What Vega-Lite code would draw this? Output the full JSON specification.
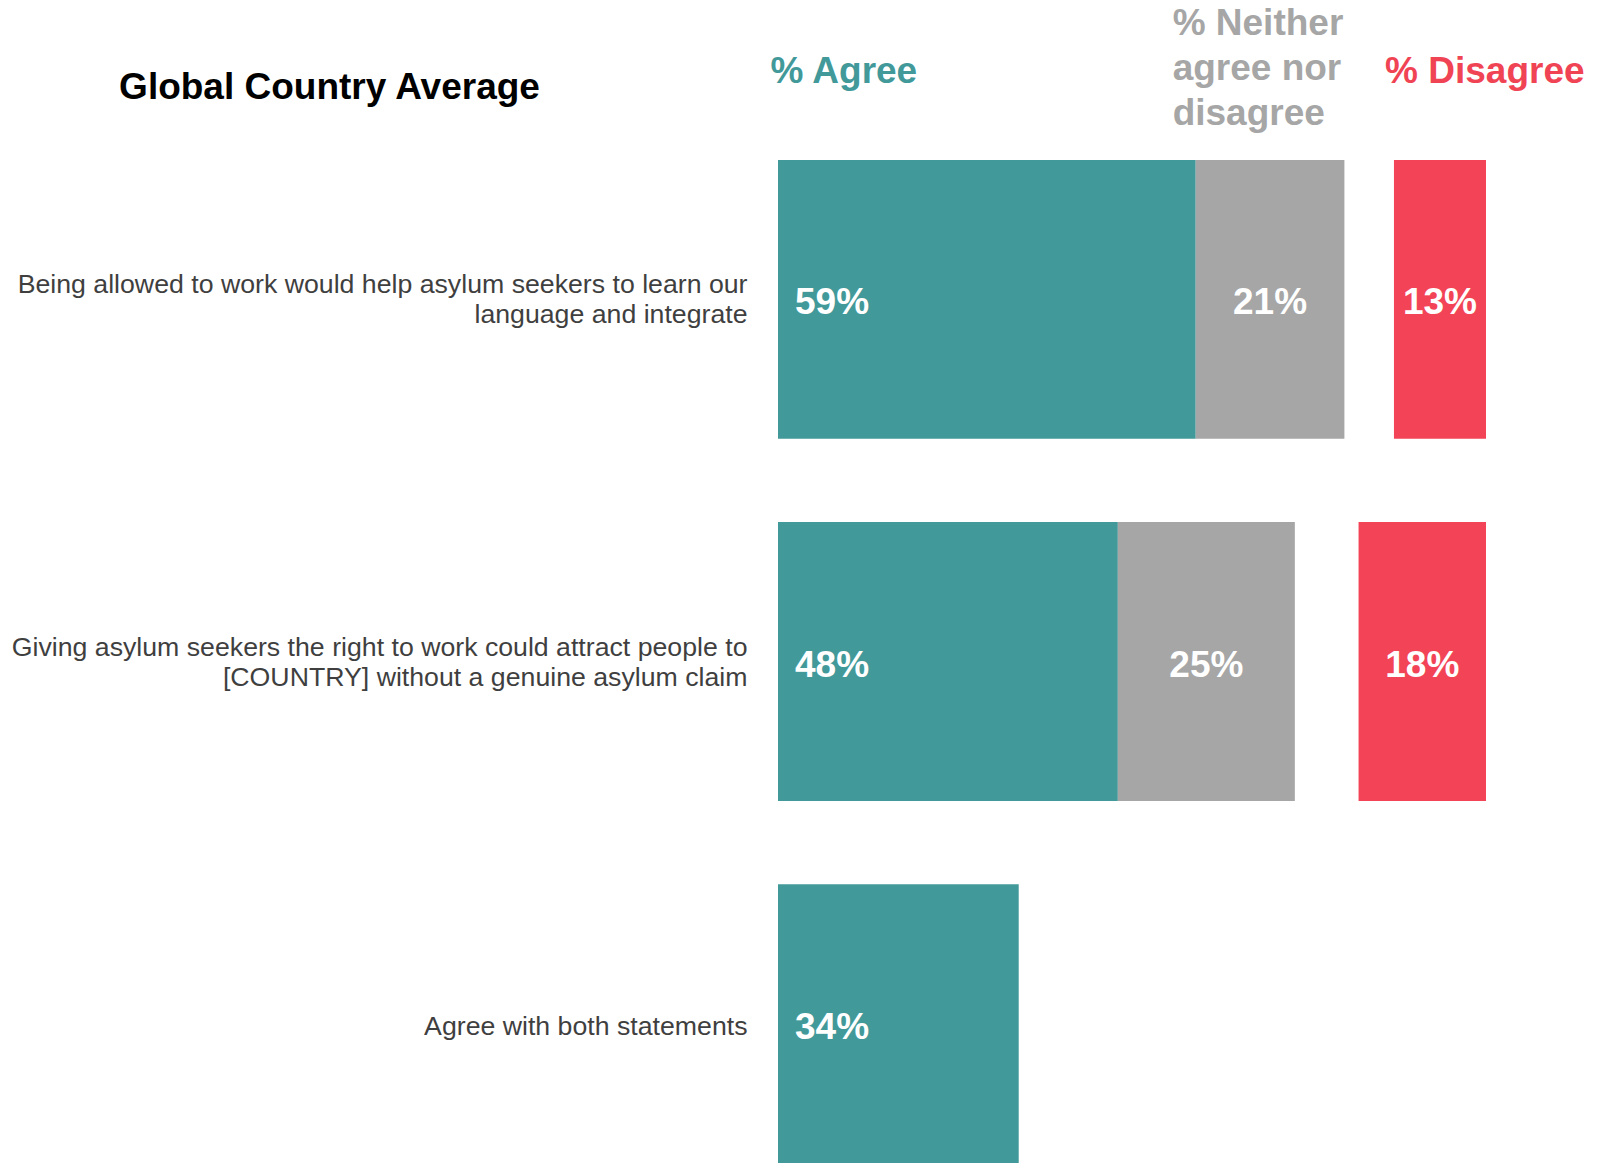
{
  "$schema": "https://vega.github.io/schema/vega-lite/v6.json",
  "autosize": {"type": "none"},
  "padding": {"left": 778, "top": 160, "right": 130, "bottom": 0},
  "width": 708,
  "height": 1003,
  "background": "white",
  "config": {"view": {"stroke": null}},
  "data": {
    "values": [
      {"statement": "Being allowed to work would help asylum seekers to learn our|language and integrate", "response": "Agree", "pct": 59},
      {"statement": "Being allowed to work would help asylum seekers to learn our|language and integrate", "response": "Neither", "pct": 21},
      {"statement": "Being allowed to work would help asylum seekers to learn our|language and integrate", "response": "Disagree", "pct": 13},
      {"statement": "Giving asylum seekers the right to work could attract people to|[COUNTRY] without a genuine asylum claim", "response": "Agree", "pct": 48},
      {"statement": "Giving asylum seekers the right to work could attract people to|[COUNTRY] without a genuine asylum claim", "response": "Neither", "pct": 25},
      {"statement": "Giving asylum seekers the right to work could attract people to|[COUNTRY] without a genuine asylum claim", "response": "Disagree", "pct": 18},
      {"statement": "Agree with both statements", "response": "Agree", "pct": 34}
    ]
  },
  "transform": [
    {"calculate": "datum.response === 'Agree' ? 1 : datum.response === 'Neither' ? 2 : 3", "as": "ord"},
    {"stack": "pct", "groupby": ["statement"], "sort": [{"field": "ord", "order": "ascending"}], "as": ["s0", "s1"]},
    {"calculate": "datum.response === 'Disagree' ? 100 - datum.pct : datum.s0", "as": "x0"},
    {"calculate": "datum.response === 'Disagree' ? 100 : datum.s1", "as": "x1"},
    {"calculate": "(datum.x0 + datum.x1) / 2", "as": "xm"},
    {"calculate": "datum.pct + '%'", "as": "lbl"}
  ],
  "encoding": {
    "y": {
      "field": "statement",
      "type": "nominal",
      "sort": null,
      "scale": {"paddingInner": 0.23, "paddingOuter": 0},
      "axis": {
        "title": "Global Country Average",
        "titleAngle": 0,
        "titleX": -449,
        "titleY": -73,
        "titleAlign": "center",
        "titleBaseline": "middle",
        "titleFont": "Liberation Sans",
        "titleFontSize": 37,
        "titleFontWeight": "bold",
        "titleColor": "#000000",
        "labelExpr": "split(datum.label, '|')",
        "labelFont": "Liberation Sans",
        "labelFontSize": 26.7,
        "labelColor": "#3F3F3F",
        "labelLineHeight": 30,
        "labelLimit": 0,
        "labelPadding": 31,
        "labelAlign": "right",
        "labelBaseline": "middle",
        "labelOffset": {"condition": {"test": "indexof(datum.value, '|') >= 0", "value": -14}, "value": 3},
        "ticks": false,
        "tickSize": 0,
        "domain": false,
        "grid": false
      }
    }
  },
  "layer": [
    {
      "mark": {"type": "bar", "clip": true},
      "encoding": {
        "x": {
          "field": "x0",
          "type": "quantitative",
          "scale": {"domain": [0, 100], "nice": false, "zero": false},
          "axis": {
            "orient": "top",
            "title": null,
            "values": [0, 56.8, 86.8],
            "labelExpr": "datum.value < 10 ? [' ', '% Agree'] : datum.value < 70 ? ['% Neither', 'agree nor', 'disagree'] : [' ', '% Disagree']",
            "labelColor": {"condition": [{"test": "datum.value < 10", "value": "#42999A"}, {"test": "datum.value < 70", "value": "#A6A6A6"}], "value": "#F04455"},
            "labelPadding": {"condition": {"test": "datum.value > 10 && datum.value < 70", "value": 137}, "value": 134},
            "labelFont": "Liberation Sans",
            "labelFontSize": 37,
            "labelFontWeight": "bold",
            "labelAlign": "left",
            "labelBaseline": "middle",
            "labelLineHeight": 45,
            "labelOffset": -8,
            "labelOverlap": false,
            "labelFlush": false,
            "labelBound": false,
            "labelLimit": 0,
            "ticks": false,
            "tickSize": 0,
            "domain": false,
            "grid": false
          }
        },
        "x2": {"field": "x1"},
        "color": {
          "field": "response",
          "type": "nominal",
          "scale": {"domain": ["Agree", "Neither", "Disagree"], "range": ["#42999A", "#A6A6A6", "#F24456"]},
          "legend": null
        }
      }
    },
    {
      "transform": [{"filter": "datum.response === 'Agree'"}],
      "mark": {"type": "text", "align": "left", "baseline": "middle", "dx": 17, "dy": 4, "font": "Liberation Sans", "fontSize": 37, "fontWeight": "bold", "color": "white"},
      "encoding": {
        "x": {"field": "x0", "type": "quantitative"},
        "text": {"field": "lbl"}
      }
    },
    {
      "transform": [{"filter": "datum.response !== 'Agree'"}],
      "mark": {"type": "text", "align": "center", "baseline": "middle", "dy": 4, "font": "Liberation Sans", "fontSize": 37, "fontWeight": "bold", "color": "white"},
      "encoding": {
        "x": {"field": "xm", "type": "quantitative"},
        "text": {"field": "lbl"}
      }
    }
  ]
}
